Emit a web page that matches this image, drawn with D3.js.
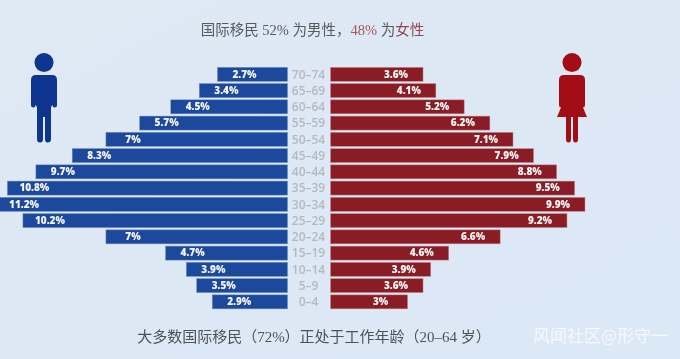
<!DOCTYPE html>
<html><head><meta charset="utf-8">
<script src="https://cdn.jsdelivr.net/npm/d3@7"></script>
<style>html,body{margin:0;padding:0;background:#dde9f5;overflow:hidden}svg{display:block}</style>
</head><body><svg id="c" width="680" height="359"></svg>
<script>
const ages = ["70–74","65–69","60–64","55–59","50–54","45–49","40–44","35–39","30–34","25–29","20–24","15–19","10–14","5–9","0–4"];
const male = [2.7,3.4,4.5,5.7,7,8.3,9.7,10.8,11.2,10.2,7,4.7,3.9,3.5,2.9];
const female = [3.6,4.1,5.2,6.2,7.1,7.9,8.8,9.5,9.9,9.2,6.6,4.6,3.9,3.6,3];
const maleLabels = ["2.7%","3.4%","4.5%","5.7%","7%","8.3%","9.7%","10.8%","11.2%","10.2%","7%","4.7%","3.9%","3.5%","2.9%"];
const femaleLabels = ["3.6%","4.1%","5.2%","6.2%","7.1%","7.9%","8.8%","9.5%","9.9%","9.2%","6.6%","4.6%","3.9%","3.6%","3%"];

const svg = d3.select("#c");
const defs = svg.append("defs");
const grad = defs.append("linearGradient").attr("id","bg").attr("x1",0).attr("y1",0).attr("x2",1).attr("y2",1);
grad.append("stop").attr("offset","0%").attr("stop-color","#dfe9f4");
grad.append("stop").attr("offset","100%").attr("stop-color","#dbe8f6");
defs.append("filter").attr("id","soft").append("feGaussianBlur").attr("stdDeviation",0.45);
svg.append("rect").attr("width",680).attr("height",359).attr("fill","url(#bg)");
const g = svg.append("g").attr("filter","url(#soft)");

const y = d3.scaleBand().domain(ages).range([66.2,310]).paddingInner(0.14).paddingOuter(0.07);
const xM = d3.scaleLinear().domain([0,11.2]).range([287.5,-3]);
const xF = d3.scaleLinear().domain([0,9.9]).range([330.5,585]);
const sans = "'Open Sans','Noto Sans CJK SC',sans-serif";
const cjk = "'Liberation Serif','Noto Sans CJK SC',serif";

g.selectAll("rect.m").data(ages).join("rect").attr("class","m")
  .attr("x",(d,i)=>xM(male[i])).attr("y",d=>y(d))
  .attr("width",(d,i)=>xM(0)-xM(male[i])).attr("height",y.bandwidth())
  .attr("fill","#1b489b").attr("stroke","#6f8fc4").attr("stroke-width",0.5);
g.selectAll("rect.f").data(ages).join("rect").attr("class","f")
  .attr("x",xF(0)).attr("y",d=>y(d))
  .attr("width",(d,i)=>xF(female[i])-xF(0)).attr("height",y.bandwidth())
  .attr("fill","#8a1f27").attr("stroke","#c98f93").attr("stroke-width",0.5);

const lab = {"font-family":sans,"font-size":"10px","font-weight":800,"fill":"#f6f6f6","text-anchor":"middle"};
function style(sel,o){Object.entries(o).forEach(([k,v])=>sel.attr(k,v));return sel;}
style(g.selectAll("text.ml").data(ages).join("text").attr("class","ml")
  .attr("x",(d,i)=>xM(male[i])+27).attr("y",d=>y(d)+y.bandwidth()/2+3.3)
  .text((d,i)=>maleLabels[i]),lab);
style(g.selectAll("text.fl").data(ages).join("text").attr("class","fl")
  .attr("x",(d,i)=>xF(female[i])-27).attr("y",d=>y(d)+y.bandwidth()/2+3.3)
  .text((d,i)=>femaleLabels[i]),lab);
style(g.selectAll("text.age").data(ages).join("text").attr("class","age")
  .attr("x",308.5).attr("y",d=>y(d)+y.bandwidth()/2+4.2).text(d=>d),
  {"font-family":sans,"font-size":"12px","font-weight":600,"fill":"#b4b9bf","text-anchor":"middle"});

const title = g.append("text").attr("x",312.5).attr("y",35).attr("text-anchor","middle")
  .attr("font-family",cjk).attr("font-size","14.5px").attr("fill","#565b60");
title.append("tspan").text("国际移民 52% 为男性，");
title.append("tspan").attr("fill","#a8545c").text("48%");
title.append("tspan").text(" 为");
title.append("tspan").attr("fill","#8f4a52").text("女性");

g.append("text").attr("x",314).attr("y",342).attr("text-anchor","middle")
  .attr("font-family",cjk).attr("font-size","15px").attr("fill","#4e5257")
  .text("大多数国际移民（72%）正处于工作年龄（20–64 岁）");
g.append("text").attr("x",533).attr("y",342)
  .attr("font-family","'Noto Sans CJK SC',sans-serif").attr("font-size","17px").attr("fill","#f6f9fc")
  .text("风闻社区@形守一");

// Figures
const mc="#0a3490", fc="#a30d12";
const m=g.append("g").attr("fill",mc);
m.append("circle").attr("cx",44).attr("cy",62.5).attr("r",9.5);
m.append("path").attr("d","M36 75 H52 Q57 75 57 80 V105 Q57 107.5 54.5 107.5 Q52.5 107.5 52.5 105 L51 107 V139 Q51 142.5 47.5 142.5 Q45 142.5 45 139 V117 H43 V139 Q43 142.5 40 142.5 Q37 142.5 37 139 V107 L35.5 105 Q35.5 107.5 33.5 107.5 Q31 107.5 31 105 V80 Q31 75 36 75 Z");
const f=g.append("g").attr("fill",fc);
f.append("circle").attr("cx",572).attr("cy",62.5).attr("r",9.5);
f.append("path").attr("d","M564 75 H580 Q585 75 585 80 V105 Q585 107.5 583 107.5 L587 117 H578 V139 Q578 142.5 575.5 142.5 Q573 142.5 573 139 V117 H571 V139 Q571 142.5 568.5 142.5 Q566 142.5 566 139 V117 L557 117 L561 107.5 Q559 107.5 559 105 V80 Q559 75 564 75 Z");
</script></body></html>
